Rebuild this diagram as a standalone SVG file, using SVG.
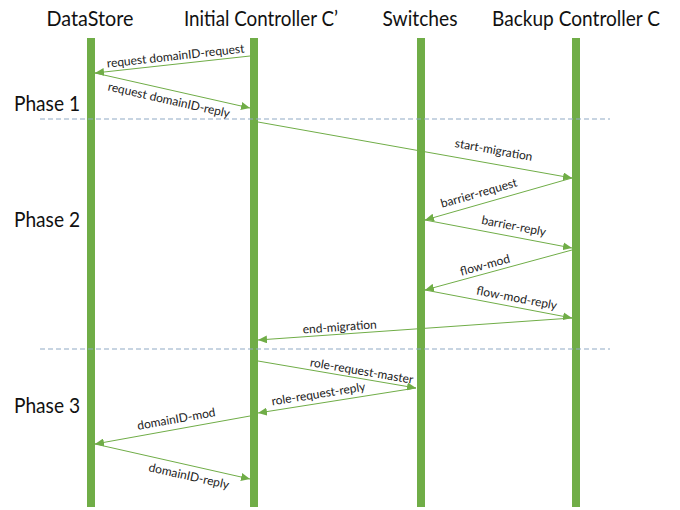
<svg xmlns="http://www.w3.org/2000/svg" width="680" height="510" viewBox="0 0 680 510">
<style>
.life{fill:#70AD47}
.hdr{font-family:Lato,"Open Sans","Liberation Sans",sans-serif;font-size:21px;fill:#111;text-anchor:middle}
.ph{font-family:Lato,"Open Sans","Liberation Sans",sans-serif;font-size:22px;fill:#111}
.msg{stroke:#70AD47;stroke-width:1;fill:none;marker-end:url(#ah)}
.lbl{font-family:Lato,"Open Sans","Liberation Sans",sans-serif;font-size:12px;fill:#222;text-anchor:middle}
.sep{stroke:#8FA9C4;stroke-width:1;stroke-dasharray:5 3}
</style>
<defs>
<marker id="ah" markerWidth="10" markerHeight="8" refX="9" refY="4" orient="auto" markerUnits="userSpaceOnUse">
<path d="M0,0 L9,4 L0,8 Z" fill="#70AD47"/>
</marker>
</defs>
<rect width="680" height="510" fill="#fff"/>
<g id="datastore"><rect class="life" x="87" y="38" width="8" height="469"/><text class="hdr" x="90" y="26" textLength="87" lengthAdjust="spacingAndGlyphs">DataStore</text></g>
<g id="initial"><rect class="life" x="250" y="38" width="8" height="469"/><text class="hdr" x="261" y="26" textLength="154" lengthAdjust="spacingAndGlyphs">Initial Controller C’</text></g>
<g id="switches"><rect class="life" x="417" y="38" width="8" height="469"/><text class="hdr" x="420" y="26" textLength="75" lengthAdjust="spacingAndGlyphs">Switches</text></g>
<g id="backup"><rect class="life" x="572" y="38" width="8" height="469"/><text class="hdr" x="576" y="26" textLength="168" lengthAdjust="spacingAndGlyphs">Backup Controller C</text></g>
<g id="phases">
<text class="ph" x="14" y="111" textLength="66" lengthAdjust="spacingAndGlyphs">Phase 1</text>
<text class="ph" x="14" y="227" textLength="66" lengthAdjust="spacingAndGlyphs">Phase 2</text>
<text class="ph" x="14" y="413" textLength="66" lengthAdjust="spacingAndGlyphs">Phase 3</text>
<line class="sep" x1="40" y1="119" x2="610" y2="119"/>
<line class="sep" x1="40" y1="349" x2="610" y2="349"/>
</g>
<g id="connectors">
<line class="msg" x1="250" y1="56" x2="95" y2="73"/>
<text class="lbl" transform="translate(176,60) rotate(-6.3)">request domainID-request</text>
<line class="msg" x1="95" y1="73" x2="250" y2="108"/>
<text class="lbl" transform="translate(168,104) rotate(12.7)">request domainID-reply</text>
<line class="msg" x1="258" y1="122" x2="572" y2="178"/>
<text class="lbl" transform="translate(493,154) rotate(10.1)">start-migration</text>
<line class="msg" x1="572" y1="178" x2="425" y2="220"/>
<text class="lbl" transform="translate(480,197) rotate(-16)">barrier-request</text>
<line class="msg" x1="425" y1="220" x2="572" y2="248"/>
<text class="lbl" transform="translate(513,230) rotate(10.8)">barrier-reply</text>
<line class="msg" x1="572" y1="250" x2="425" y2="290"/>
<text class="lbl" transform="translate(486,269) rotate(-15.2)">flow-mod</text>
<line class="msg" x1="425" y1="290" x2="572" y2="318"/>
<text class="lbl" transform="translate(516,302) rotate(10.8)">flow-mod-reply</text>
<line class="msg" x1="572" y1="318" x2="258" y2="340"/>
<text class="lbl" transform="translate(340,331) rotate(-4)">end-migration</text>
<line class="msg" x1="258" y1="361" x2="416" y2="388"/>
<text class="lbl" transform="translate(361,375) rotate(9.7)">role-request-master</text>
<line class="msg" x1="416" y1="388" x2="258" y2="413"/>
<text class="lbl" transform="translate(319,398) rotate(-9)">role-request-reply</text>
<line class="msg" x1="250" y1="416" x2="95" y2="444"/>
<text class="lbl" transform="translate(177,423) rotate(-10.2)">domainID-mod</text>
<line class="msg" x1="95" y1="444" x2="250" y2="479"/>
<text class="lbl" transform="translate(188,480) rotate(12.7)">domainID-reply</text>
</g>
</svg>
